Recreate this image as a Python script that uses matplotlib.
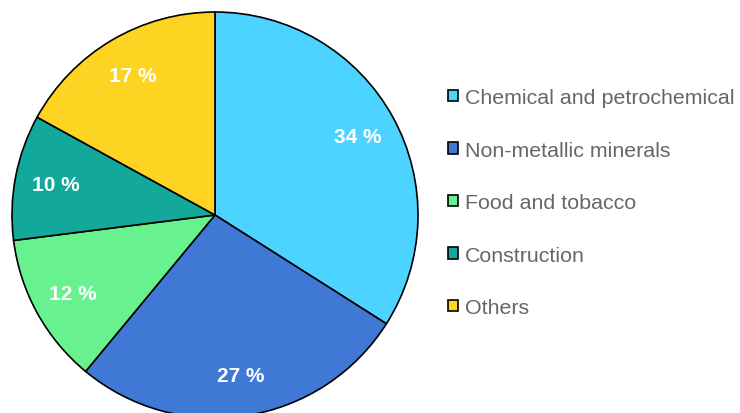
import matplotlib
matplotlib.use("Agg")
import matplotlib.pyplot as plt

categories = ["Chemical and petrochemical", "Non-metallic minerals", "Food and tobacco",
              "Construction", "Others"]
values = [34, 27, 12, 10, 17]
colors = ["#4DD3FF", "#3F79D5", "#68F28F", "#12A89A", "#FDD422"]

plt.rcParams['font.family'] = ['Liberation Sans', 'DejaVu Sans']

W, H = 740, 414
fig = plt.figure(figsize=(W / 100, H / 100), dpi=100)
cx, cy, r = 215, 216, 203
ax = fig.add_axes([(cx - r) / W, (H - cy - r) / H, 2 * r / W, 2 * r / H])
ax.axis("off")

wedges, texts, autotexts = ax.pie(
    values, colors=colors, startangle=90, counterclock=False, radius=1,
    autopct=lambda p: f"{p:.0f} %", pctdistance=0.8,
    wedgeprops=dict(edgecolor="black", linewidth=1.2),
    textprops=dict(color="white", fontsize=15, fontweight="bold"),
    frame=False)
ax.set_xlim(-1, 1)
ax.set_ylim(-1, 1)
ax.set_aspect("auto")

leg = fig.legend(wedges, categories, loc="upper left",
                 bbox_to_anchor=(448 / W, 1 - 89 / H), frameon=False,
                 fontsize=15.4, labelcolor="#666666",
                 handlelength=0.45, handleheight=0.45, handletextpad=0.33,
                 labelspacing=1.57, borderpad=0, borderaxespad=0)
for h in leg.legend_handles:
    h.set_edgecolor("black")
    h.set_linewidth(1.2)

fig.savefig("out.png", dpi=100)
